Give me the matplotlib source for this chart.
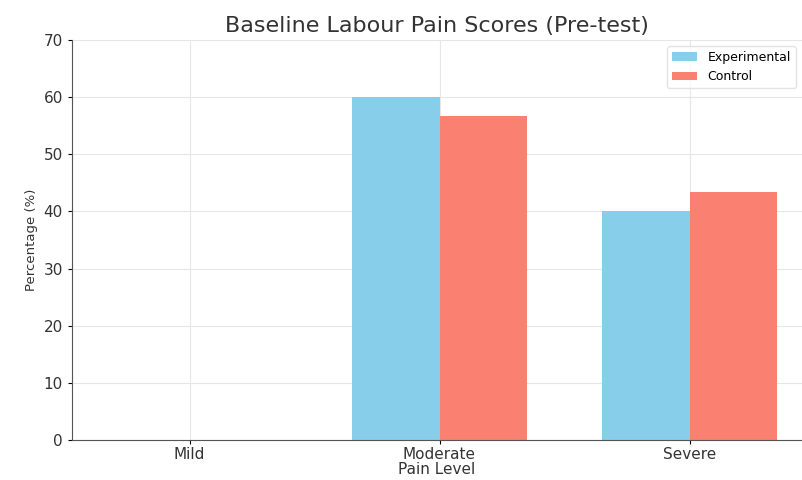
import matplotlib.pyplot as plt
import numpy as np

# pain levels and pre-test percentages
levels = ["Mild", "Moderate", "Severe"]
experimental = [0, 60.0, 40.0]
control = [0, 56.67, 43.33]

x = np.arange(len(levels))
w = 0.35

fig = plt.figure(figsize=(8.02, 4.8), dpi=100)
ax = fig.add_axes([72/802, 40/480, 730/802, 400/480])

ax.bar(x - w/2, experimental, w, label="Experimental", color="skyblue", zorder=2)
ax.bar(x + w/2, control, w, label="Control", color="salmon", zorder=2)

ax.set_xticks(x)
ax.set_xticklabels(levels, fontsize=11, color="#333333")
ax.set_ylim(0, 70)
ax.set_xlim(-0.47, 2.45)
ax.tick_params(axis="y", labelsize=11, labelcolor="#333333", length=3)
ax.tick_params(axis="x", length=3, pad=2)
ax.grid(True, color="#e6e6e6", linewidth=0.8, zorder=0)
ax.set_axisbelow(True)

for s in ["top", "right"]:
    ax.spines[s].set_visible(False)
ax.spines["left"].set_color("#555555")
ax.spines["bottom"].set_color("#555555")

ax.set_xlabel("Pain Level", fontsize=11, color="#333333", labelpad=0)
ax.set_ylabel("Percentage (%)", fontsize=9.5, color="#333333")
ax.set_title("Baseline Labour Pain Scores (Pre-test)", fontsize=16, color="#333333", pad=6)
ax.legend(loc="upper right", fontsize=9, frameon=True, framealpha=0.8, edgecolor="#dddddd")

fig.savefig("out.png", dpi=100)
